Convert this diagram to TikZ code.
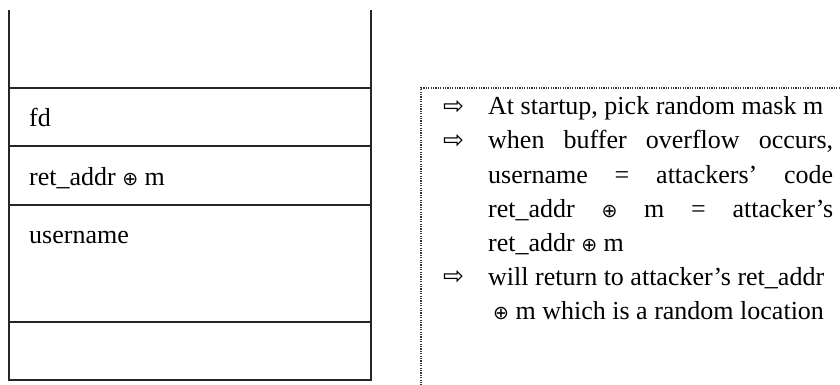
\documentclass[tikz,border=0pt]{standalone}
\usepackage{fontspec}
\setmainfont{Liberation Serif}
\newfontfamily\djv{DejaVu Sans}
\newcommand{\xo}{{\djv\fontsize{19}{19}\selectfont ⊕}}
\newcommand{\arrw}{{\djv\fontsize{25}{25}\selectfont ⇨}}
\begin{document}
\begin{tikzpicture}[x=1pt,y=-1pt,
  stackline/.style={line width=1.6pt,black!85},
  txt/.style={anchor=base west,inner sep=0pt,font=\fontsize{26}{34}\selectfont},
  arr/.style={anchor=base west,inner sep=0pt},
  boxline/.style={dash pattern=on 1.2pt off 1.2pt,line width=1.3pt,black!80}]
\useasboundingbox (0,0) rectangle (840,385);
% stack
\draw[stackline] (9,10) -- (9,380) -- (371,380) -- (371,10);
\draw[stackline] (9,88) -- (371,88);
\draw[stackline] (9,146) -- (371,146);
\draw[stackline] (9,205) -- (371,205);
\draw[stackline] (9,322) -- (371,322);
\node[txt] (fd) at (29,126) {fd};
\node[txt] (ret) at (29,185) {ret\_addr \xo\ m};
\node[txt] (user) at (29,243) {username};
% dotted box
\draw[boxline] (421,400) -- (421,88) -- (850,88);
% bullets
\node[arr] (a1) at (443,114) {\arrw};
\node[arr] (a2) at (443,148) {\arrw};
\node[arr] (a3) at (443,284) {\arrw};
\node[txt] (l1) at (488,115) {At startup, pick random mask m};
\node[txt] (l2) at (488,149) {\makebox[345pt][s]{when buffer overflow occurs,}};
\node[txt] (l3) at (488,183) {\makebox[345pt][s]{username = attackers’ code}};
\node[txt] (l4) at (488,217) {\makebox[345pt][s]{ret\_addr \xo\ m = attacker’s}};
\node[txt] (l5) at (488,251) {ret\_addr \xo\ m};
\node[txt] (l6) at (488,285) {will return to attacker’s ret\_addr};
\node[txt] (l7) at (493,319) {\xo\ m which is a random location};
\end{tikzpicture}
\end{document}
